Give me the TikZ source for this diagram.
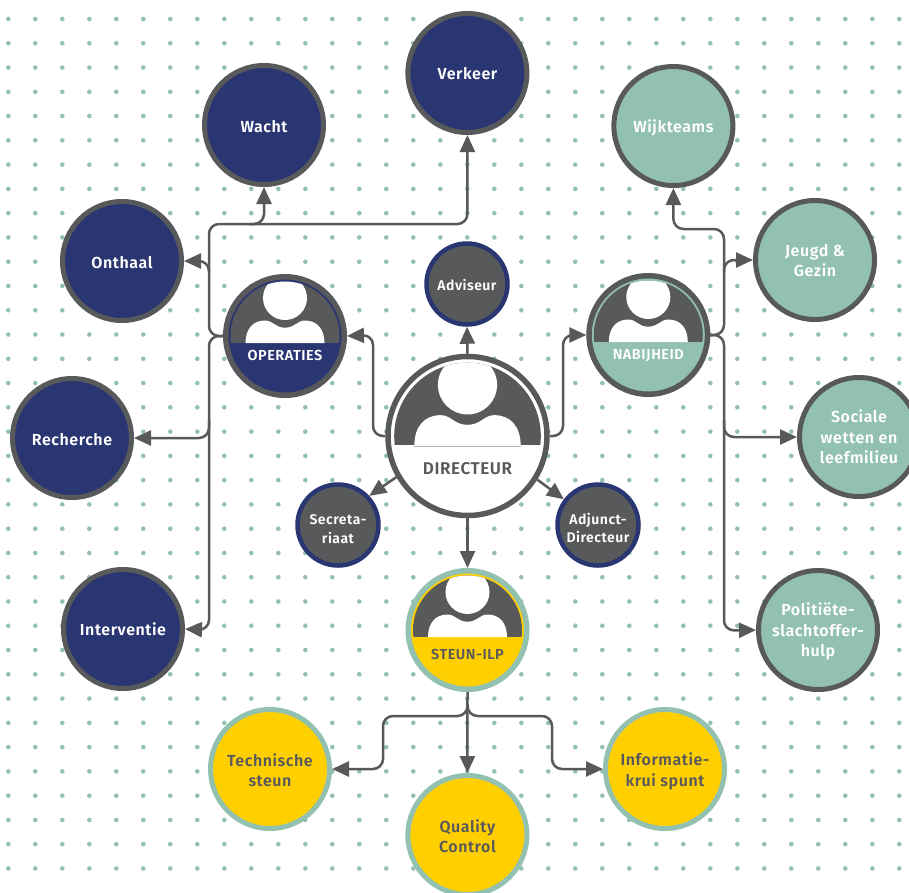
\documentclass[tikz,border=0pt]{standalone}
\usepackage{fontspec}
\setmainfont{Fira Sans}[BoldFont={Fira Sans SemiBold},LetterSpace=3.5]
\usetikzlibrary{arrows.meta}
\definecolor{navy}{HTML}{2A3672}
\definecolor{slate}{HTML}{58595B}
\definecolor{sage}{HTML}{93C1B0}
\definecolor{gold}{HTML}{FFCF00}
\newcommand{\lbl}[2]{\raisebox{\dimexpr-#1pt-2.4pt\relax}[0pt][0pt]{\begin{tabular}{@{}c@{}}#2\end{tabular}}}
\newcommand{\personicon}[3]{%
  \begin{scope}[shift={(#1,#2)},scale=#3]
    \begin{scope}
      \clip (0,0) circle[radius=54.5];
      \fill[slate] (-60,-60) rectangle (60,7);
      \fill[white] (0,-38) circle[radius=22];
      \fill[white] (-39.5,7) .. controls (-39.5,-7) and (-32,-15.5) .. (-20,-15.5)
        .. controls (-12,-15.5) and (-10,-8.3) .. (0,-8.3)
        .. controls (10,-8.3) and (12,-15.5) .. (20,-15.5)
        .. controls (32,-15.5) and (39.5,-7) .. (39.5,7) -- cycle;
    \end{scope}
  \end{scope}}
\tikzset{
  x=1pt,y=-1pt,
  every node/.style={font=\bfseries\fontsize{16}{20.5}\selectfont,align=center,inner sep=0pt},
  big/.style={circle,minimum size=119pt,line width=5pt,draw=slate},
  navyc/.style={big,fill=navy,text=white},
  sagec/.style={big,fill=sage,text=white},
  goldc/.style={big,fill=gold,draw=sage,text=slate},
  small/.style={circle,minimum size=81pt,line width=4.5pt,draw=navy,fill=slate,text=white,font=\bfseries\fontsize{14}{18.5}\selectfont},
  iconc/.style={circle,minimum size=118.5pt,line width=5.5pt},
  iconlabel/.style={font=\bfseries\fontsize{14.5}{18}\selectfont},
  conn/.style={draw=slate,line width=2.5pt,rounded corners=10pt,-{Triangle[length=17pt,width=15pt]}}
}
\begin{document}
\begin{tikzpicture}
\useasboundingbox (0,0) rectangle (909,892);
\fill[white] (0,0) rectangle (909,892);
\foreach \i in {0,...,33}{\foreach \j in {0,...,35}{
  \fill[sage] ({8.3+27*\i},{19+24.27*\j}) circle[radius=2.3];
}}
% plain circles
\node[navyc] (verk) at (467.4,73) {\lbl{4.5}{Verkeer}};
\node[navyc] (wacht) at (264,125) {\lbl{5.5}{Wacht}};
\node[navyc] (onth) at (122,261) {\lbl{5.5}{Onthaal}};
\node[navyc] (rech) at (72,438) {\lbl{5.5}{Recherche}};
\node[navyc] (inter) at (123,629) {\lbl{4.5}{Interventie}};
\node[sagec] (wijk) at (673.4,126) {\lbl{4}{Wijkteams}};
\node[sagec] (jeug) at (815,260) {\lbl{4.5}{Jeugd \&\\Gezin}};
\node[sagec] (soc) at (859,437) {\lbl{4}{Sociale\\wetten en\\leefmilieu}};
\node[sagec] (poli) at (818,630) {\lbl{4}{Politiëte-\\slachtoffer-\\hulp}};
\node[goldc] (tech) at (270,769) {\lbl{5.5}{Technische\\steun}};
\node[goldc] (qual) at (467.4,835) {\lbl{5.5}{Quality\\Control}};
\node[goldc] (info) at (665,769) {\lbl{5}{Informatie-\\krui spunt}};
\node[small] (advi) at (467,284) {\lbl{3.5}{Adviseur}};
\node[small] (secr) at (338,525) {\lbl{6.5}{Secreta-\\riaat}};
\node[small] (adju) at (598,525) {\lbl{6}{Adjunct-\\Directeur}};
% icon circles
\node[iconc,draw=slate,fill=navy] (oper) at (285,336) {};
\personicon{285}{336}{1}
\node[iconlabel,text=white] (operl) at (285,355) {OPERATIES};
\node[iconc,draw=slate,fill=sage] (nabi) at (648.3,335) {};
\personicon{648.3}{335}{1}
\node[iconlabel,text=white] (nabil) at (648.3,355.5) {NABIJHEID};
\node[iconc,draw=sage,fill=gold] (steu) at (467.5,630) {};
\personicon{467.5}{630}{1}
\node[iconlabel,text=slate] (steul) at (467.5,654) {STEUN-ILP};
\node[circle,minimum size=159pt,line width=5.5pt,draw=slate,fill=white] (dire) at (467.5,436) {};
\personicon{467.5}{436}{1.345}
\draw[line width=.4pt,color=slate!45!white] (414,445.7) -- (520.7,445.7);
\node[text=slate,font=\bfseries\fontsize{17}{20}\selectfont] (direl) at (467.5,468.5) {DIRECTEUR};
% junction coordinates
\coordinate (lt) at (209,224);
\coordinate (lb) at (209,630);
\coordinate (rt) at (724,229);
\coordinate (rb) at (724,630.5);
\coordinate (wb) at (250,224);
\coordinate (ob) at (209,272);
\coordinate (rbr) at (209,420);
\coordinate (jb) at (724,272);
\coordinate (sb) at (724,420);
\coordinate (dl) at (373,335);
\coordinate (dr) at (563,335);
\coordinate (sj) at (467.5,716);
\coordinate (sl) at (383,716);
\coordinate (sr) at (552,716);
% connectors
\draw[conn] (dire.west) -| (dl) -- (oper.east);
\draw[conn] (dire.east) -| (dr) -- (nabi.west);
\draw[conn] (dire.north) -- (advi.south);
\draw[conn] (dire.210) -- (secr.43);
\draw[conn] (dire.328) -- (adju.143);
\draw[conn] (dire.south) -- (steu.north);
\draw[conn] (oper.west) -| (lt) -| (verk.south);
\draw[conn] (wb) -| (wacht.south);
\draw[conn] (ob) |- (onth.east);
\draw[conn] (oper.west) -| (lb) -- (inter.east);
\draw[conn] (rbr) |- (rech.east);
\draw[conn] (nabi.east) -| (rt) -| (wijk.south);
\draw[conn] (jb) |- (jeug.west);
\draw[conn] (nabi.east) -| (rb) -- (poli.west);
\draw[conn] (sb) |- (soc.west);
\draw[conn] (steu.south) -- (qual.north);
\draw[conn] (sj) ++(0,-12) -- ++(0,12) -- (sl) |- (tech.east);
\draw[conn] (sj) ++(0,-12) -- ++(0,12) -- (sr) |- (info.west);
\end{tikzpicture}
\end{document}
